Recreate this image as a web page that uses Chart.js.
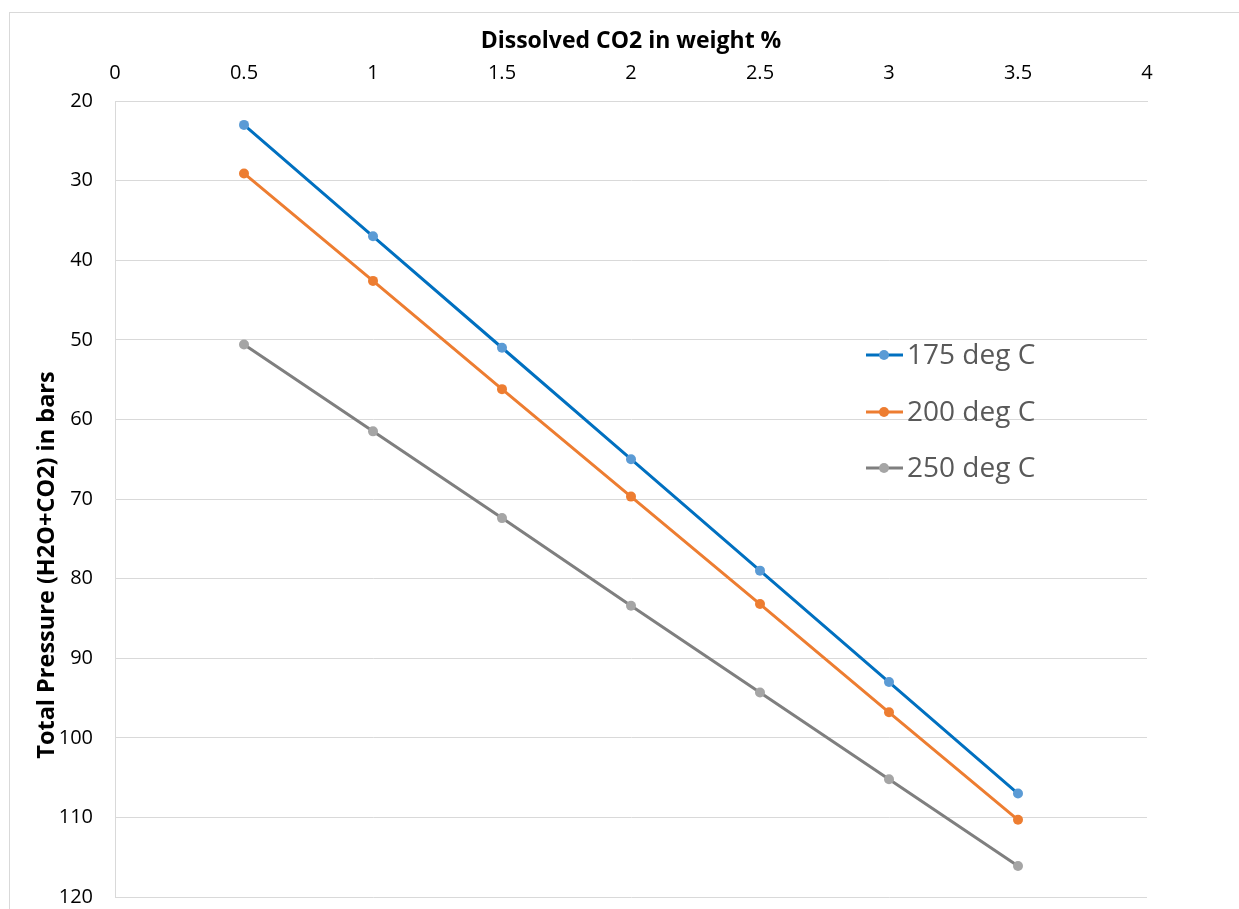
<!DOCTYPE html>
<html>
<head>
<meta charset="utf-8">
<script src="https://cdn.jsdelivr.net/npm/chart.js@4/dist/chart.umd.min.js"></script>
<style>
  html, body { margin: 0; padding: 0; background: #fff; }
  #wrap { width: 1239px; height: 909px; }
</style>
</head>
<body>
<div id="wrap"><canvas id="myChart" width="1239" height="909"></canvas></div>
<script>
// valores
const co2Pct = [0.5, 1, 1.5, 2, 2.5, 3, 3.5];
const p175 = [23, 37, 51, 65, 79, 93, 107];
const p200 = [29.1, 42.6, 56.2, 69.7, 83.2, 96.8, 110.3];
const p250 = [50.6, 61.5, 72.4, 83.4, 94.3, 105.2, 116.1];
const seriesNames = ['175 deg C', '200 deg C', '250 deg C'];
const xTitle = 'Dissolved CO2 in weight %';
const yTitle = 'Total Pressure (H2O+CO2) in bars';

const FONT = '"Open Sans", "Noto Sans", sans-serif';
const gridColor = '#D9D9D9';

const toPoints = (vals) => co2Pct.map((x, i) => ({ x: x, y: vals[i] }));

const lineColors = ['#0070C0', '#ED7D31', '#7F7F7F'];
const markColors = ['#5B9BD5', '#ED7D31', '#A5A5A5'];

const makeSet = (idx, vals) => ({
    label: seriesNames[idx],
    data: toPoints(vals),
    borderColor: lineColors[idx],
    backgroundColor: markColors[idx],
    pointBackgroundColor: markColors[idx],
    pointBorderColor: markColors[idx],
    pointRadius: 5,
    pointBorderWidth: 0,
    borderWidth: 3,
    tension: 0
});

//borde exterior, titulo del eje y, y la leyenda dentro del grafico
const extras = {
    id: 'extras',
    beforeDraw(chart) {
        const ctx = chart.ctx;
        ctx.save();
        ctx.strokeStyle = gridColor;
        ctx.lineWidth = 1;
        ctx.strokeRect(9.5, 12.5, 1400, 1000);
        ctx.restore();
    },
    afterDraw(chart) {
        const ctx = chart.ctx;
        ctx.save();
        ctx.translate(47, 565);
        ctx.rotate(-Math.PI / 2);
        ctx.fillStyle = '#000';
        ctx.font = 'bold 23.5px ' + FONT;
        ctx.textAlign = 'center';
        ctx.textBaseline = 'middle';
        ctx.fillText(yTitle, 0, 0);
        ctx.restore();

        const legX = 866;
        const legY = [355, 412, 468];
        chart.data.datasets.forEach((ds, i) => {
            const y = legY[i];
            ctx.save();
            ctx.strokeStyle = ds.borderColor;
            ctx.lineWidth = 3;
            ctx.beginPath();
            ctx.moveTo(legX, y);
            ctx.lineTo(legX + 37, y);
            ctx.stroke();
            ctx.fillStyle = ds.pointBackgroundColor;
            ctx.beginPath();
            ctx.arc(legX + 18, y, 5, 0, Math.PI * 2);
            ctx.fill();
            ctx.fillStyle = '#595959';
            ctx.font = '28px ' + FONT;
            ctx.textAlign = 'left';
            ctx.textBaseline = 'middle';
            ctx.fillText(ds.label, legX + 41, y + 1);
            ctx.restore();
        });
    }
};

const cv = document.querySelector('#myChart').getContext('2d');
const myChart = new Chart(cv, {
    type: 'line',
    data: {
        datasets: [makeSet(0, p175), makeSet(1, p200), makeSet(2, p250)]
    },
    options: {
        responsive: false,
        animation: false,
        layout: { padding: { left: 9, top: 12, right: 92, bottom: 12 } },
        plugins: {
            legend: { display: false },
            tooltip: { enabled: false }
        },
        scales: {
            x: {
                type: 'linear',
                position: 'top',
                min: 0,
                max: 4,
                ticks: {
                    stepSize: 0.5,
                    color: '#000',
                    padding: 16,
                    maxRotation: 0,
                    font: { family: FONT, size: 20 },
                    callback: (v) => String(v)
                },
                grid: { display: false, drawTicks: false },
                border: { display: true, color: gridColor, width: 1 },
                title: {
                    display: true,
                    text: xTitle,
                    color: '#000',
                    padding: { top: 16, bottom: 0 },
                    font: { family: FONT, size: 23, weight: 'bold' }
                },
                afterFit(scale) { scale.height = 89; }
            },
            y: {
                type: 'linear',
                reverse: true,
                min: 20,
                max: 120,
                ticks: {
                    stepSize: 10,
                    color: '#000',
                    padding: 22,
                    font: { family: FONT, size: 20 }
                },
                grid: { color: gridColor, lineWidth: 1, drawTicks: false },
                border: { display: true, color: gridColor, width: 1 },
                afterFit(scale) {
                    scale.width = 106;
                    scale.paddingTop = 0;
                    scale.paddingBottom = 0;
                }
            }
        }
    },
    plugins: [extras]
});
</script>
</body>
</html>
